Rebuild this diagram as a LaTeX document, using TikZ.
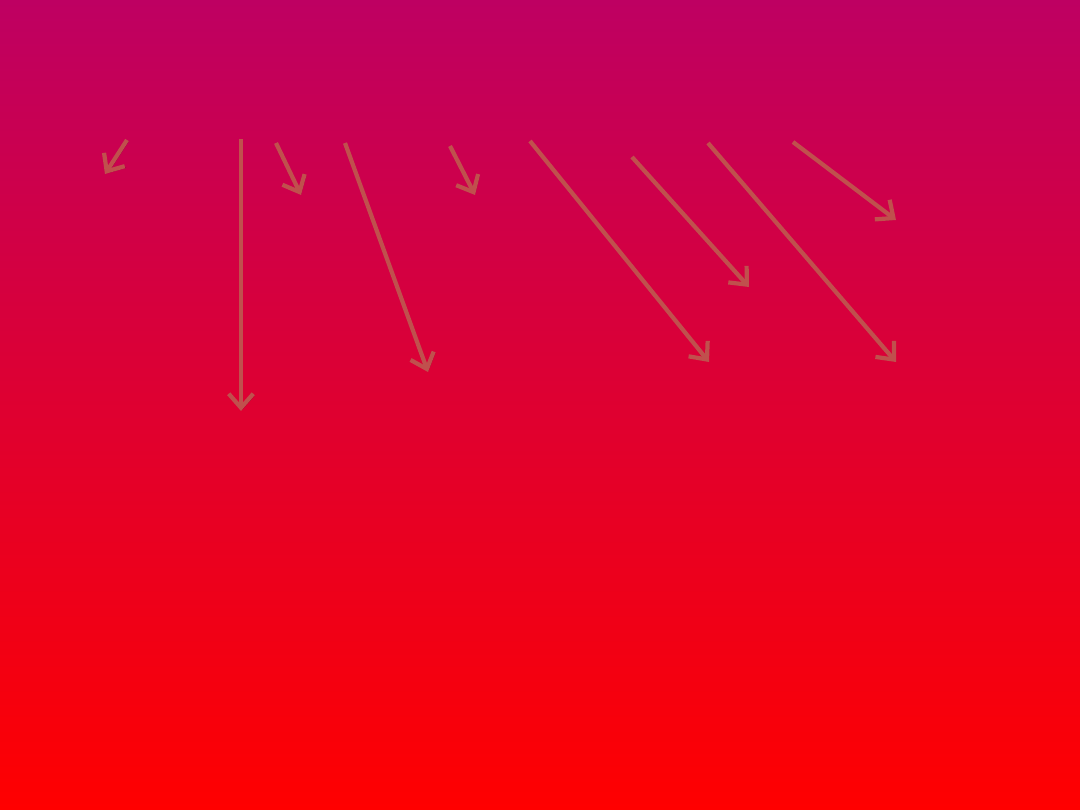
\documentclass[tikz,border=0pt]{standalone}
\usepackage{tikz}
\usetikzlibrary{arrows.meta}

\definecolor{topmag}{RGB}{190,0,98}
\definecolor{botred}{RGB}{255,0,0}
\definecolor{arrowred}{RGB}{192,80,77}

\begin{document}
\begin{tikzpicture}[
	x = 0.02cm, y = -0.02cm, % one unit per pixel
	> = {Straight Barb[length=8pt, width=14pt, line width=2.4pt, line cap=butt, line join=miter]},
	A/.style={->, draw=arrowred, line width=2.4pt,
		preaction={draw, black, opacity=0.25, transform canvas={xshift=0.8pt, yshift=-0.8pt}}},
	]

	% Background
	\shade[top color=topmag, bottom color=botred] (0,0) rectangle (1080,810);
	\useasboundingbox (0,0) rectangle (1080,810);

	% Arrow ends
	\coordinate (a1) at (127,140); \coordinate (b1) at (105,174);
	\coordinate (a2) at (241,139); \coordinate (b2) at (241,411);
	\coordinate (a3) at (276,143); \coordinate (b3) at (301,195);
	\coordinate (a4) at (345,143); \coordinate (b4) at (428,372);
	\coordinate (a5) at (450,146); \coordinate (b5) at (475,195);
	\coordinate (a6) at (530,141); \coordinate (b6) at (709,362);
	\coordinate (a7) at (632,157); \coordinate (b7) at (749,287);
	\coordinate (a8) at (708,143); \coordinate (b8) at (896,362);
	\coordinate (a9) at (793,142); \coordinate (b9) at (896,220);

	% Arrows
	\foreach \i in {1,...,9}
		\draw[A] (a\i) -- (b\i);

\end{tikzpicture}
\end{document}
